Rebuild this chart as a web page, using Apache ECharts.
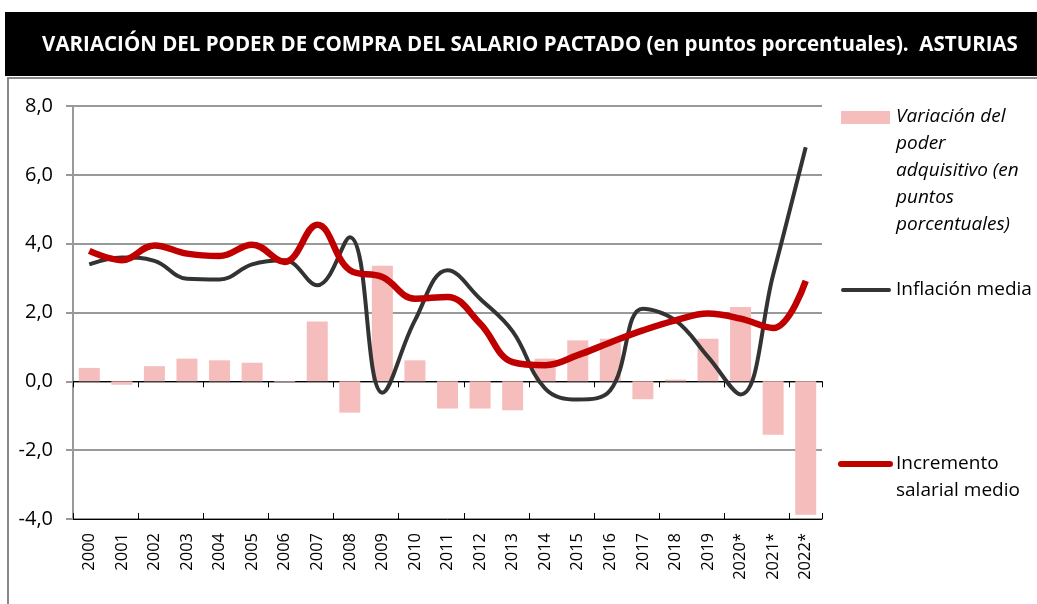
<!DOCTYPE html>
<html>
<head>
<meta charset="utf-8">
<script src="https://cdn.jsdelivr.net/npm/echarts@6/dist/echarts.min.js"></script>
<style>
html,body{margin:0;padding:0;background:#fff;}
#chart{width:1037px;height:604px;}
</style>
</head>
<body>
<div id="chart"></div>
<script>
const categories = ['2000','2001','2002','2003','2004','2005','2006','2007','2008','2009','2010','2011','2012','2013','2014','2015','2016','2017','2018','2019','2020*','2021*','2022*'];
const variacion = [0.39,-0.10,0.44,0.66,0.61,0.54,-0.02,1.74,-0.91,3.36,0.61,-0.79,-0.79,-0.84,0.66,1.19,1.24,-0.52,0.05,1.24,2.16,-1.55,-3.88];
const inflacion = [3.40,3.60,3.50,2.98,2.96,3.40,3.52,2.79,4.19,-0.33,1.77,3.23,2.40,1.45,-0.21,-0.53,-0.26,2.11,1.77,0.71,-0.38,3.10,6.80];
const incremento = [3.79,3.52,3.95,3.71,3.64,3.97,3.47,4.55,3.23,3.03,2.40,2.45,1.68,0.56,0.47,0.76,1.13,1.48,1.77,1.97,1.82,1.55,2.92];
const yTicks = [-4, -2, 0, 2, 4, 6, 8];
const titleText = 'VARIACIÓN DEL PODER DE COMPRA DEL SALARIO PACTADO (en puntos porcentuales).  ASTURIAS';
const legendNames = ['Variación del\npoder\nadquisitivo (en\npuntos\nporcentuales)', 'Inflación media', 'Incremento\nsalarial medio'];

const chart = echarts.init(document.getElementById('chart'), null, {renderer: 'canvas'});
const font = "'Open Sans', sans-serif";

const option = {
  animation: false,
  backgroundColor: '#ffffff',
  grid: {left: 73, right: 215, top: 106, bottom: 85, containLabel: false},
  xAxis: [
    {
      type: 'category', data: categories, position: 'bottom',
      axisLine: {show: true, onZero: true, lineStyle: {color: '#000', width: 1}},
      axisTick: {show: true, inside: false, length: 6, lineStyle: {color: '#000', width: 1}},
      axisLabel: {show: false}, splitLine: {show: false}
    },
    {
      type: 'category', data: categories, position: 'bottom',
      axisLine: {show: true, onZero: true, lineStyle: {color: '#000', width: 1}},
      axisTick: {show: true, inside: true, length: 6, lineStyle: {color: '#000', width: 1}},
      axisLabel: {show: false}, splitLine: {show: false}
    },
    {
      type: 'category', data: categories, position: 'bottom',
      axisLine: {show: false, onZero: false},
      axisTick: {show: false},
      axisLabel: {show: true, rotate: 90, margin: 14, fontFamily: font, fontSize: 16.5, color: '#000', interval: 0},
      splitLine: {show: false}
    }
  ],
  yAxis: {
    type: 'value', min: yTicks[0], max: yTicks[yTicks.length - 1], interval: 2,
    axisLine: {show: true, lineStyle: {color: '#999', width: 2}},
    axisTick: {show: true, length: 7, lineStyle: {color: '#999', width: 2}},
    splitLine: {show: true, lineStyle: {color: '#999', width: 2}},
    axisLabel: {
      margin: 20, fontFamily: font, fontSize: 20, color: '#000',
      formatter: v => v.toFixed(1).replace('.', ',')
    }
  },
  series: [
    {
      name: legendNames[0], type: 'bar', xAxisIndex: 0, data: variacion,
      barWidth: 21, itemStyle: {color: '#F5BDBB'}, z: 1
    },
    {
      name: legendNames[1], type: 'line', xAxisIndex: 0, data: inflacion,
      smooth: 0.4, symbol: 'none', lineStyle: {color: '#333333', width: 4}, z: 3
    },
    {
      name: legendNames[2], type: 'line', xAxisIndex: 0, data: incremento,
      smooth: 0.4, symbol: 'none', lineStyle: {color: '#C00000', width: 6.5}, z: 4
    }
  ],
  graphic: [
    {type: 'rect', shape: {x: 5, y: 12, width: 1040, height: 64}, style: {fill: '#000'}, silent: true, z: 0},
    {type: 'text', x: 530, y: 45, style: {text: titleText, fill: '#fff', font: "bold 20.5px 'Open Sans', sans-serif", align: 'center', verticalAlign: 'middle'}, z: 1},
    {type: 'rect', shape: {x: 8, y: 78, width: 1040, height: 540}, style: {fill: 'none', stroke: '#888', lineWidth: 2}, silent: true, z: 0},
    {type: 'rect', shape: {x: 841, y: 111, width: 49, height: 13}, style: {fill: '#F5BDBB'}, z: 2},
    {type: 'text', x: 896, y: 103, style: {text: legendNames[0], fill: '#000', font: "italic 19px 'Open Sans', sans-serif", lineHeight: 27, verticalAlign: 'top', align: 'left'}, z: 2},
    {type: 'line', shape: {x1: 843, y1: 290, x2: 889, y2: 290}, style: {stroke: '#333', lineWidth: 4, lineCap: 'round'}, z: 2},
    {type: 'text', x: 896, y: 290, style: {text: legendNames[1], fill: '#000', font: "19px 'Open Sans', sans-serif", verticalAlign: 'middle', align: 'left'}, z: 2},
    {type: 'line', shape: {x1: 841, y1: 464, x2: 890, y2: 464}, style: {stroke: '#C00000', lineWidth: 6, lineCap: 'round'}, z: 2},
    {type: 'text', x: 896, y: 450, style: {text: legendNames[2], fill: '#000', font: "19px 'Open Sans', sans-serif", lineHeight: 27, verticalAlign: 'top', align: 'left'}, z: 2}
  ]
};
chart.setOption(option);
</script>
</body>
</html>
